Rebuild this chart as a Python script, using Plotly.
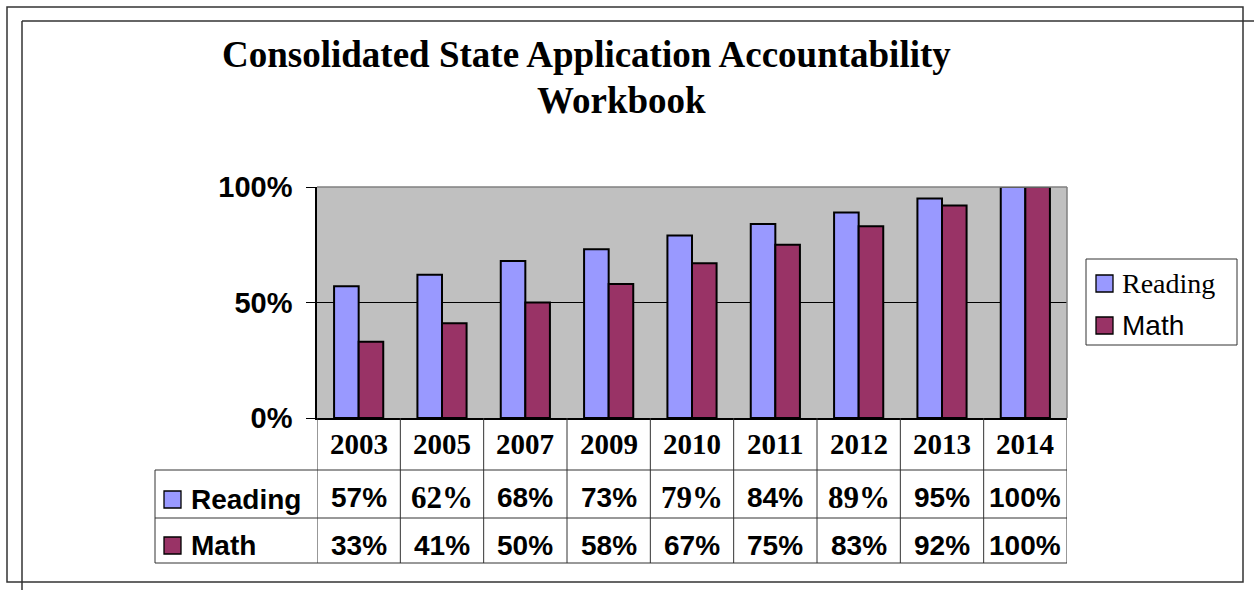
import plotly.graph_objects as go

# ---- data ----
years = ["2003", "2005", "2007", "2009", "2010", "2011", "2012", "2013", "2014"]
reading = [57, 62, 68, 73, 79, 84, 89, 95, 100]
math = [33, 41, 50, 58, 67, 75, 83, 92, 100]
series_names = ["Reading", "Math"]
ytick_vals = [0, 0.5, 1.0]
ytick_text = ["0%", "50%", "100%"]
title_line1 = "Consolidated State Application Accountability"
title_line2 = "Workbook"

# ---- styles ----
W, H = 1254, 590
SERIF = "Times New Roman, Liberation Serif, serif"
SANS = "Arial, Liberation Sans, sans-serif"
C_READ = "#9999FF"
C_MATH = "#993366"
serif_reading_cells = {"2005", "2010", "2012"}


def px(x):
    return x / W


def py(y):
    return 1 - y / H


x0p, x1p = 317, 1067
y_top, y_bot = 187, 418

fig = go.Figure()
fig.add_trace(go.Bar(x=years, y=[v / 100 for v in reading], name=series_names[0],
                     marker=dict(color=C_READ, line=dict(color="black", width=2)),
                     showlegend=False))
fig.add_trace(go.Bar(x=years, y=[v / 100 for v in math], name=series_names[1],
                     marker=dict(color=C_MATH, line=dict(color="black", width=2)),
                     showlegend=False))

shapes = []
annotations = []

# page frame lines
shapes.append(dict(type="rect", xref="paper", yref="paper", x0=px(7), x1=px(1243), y0=py(7), y1=py(582),
                   line=dict(color="#333333", width=1.5)))
shapes.append(dict(type="line", xref="paper", yref="paper", x0=px(22), x1=px(1254), y0=py(21), y1=py(21),
                   line=dict(color="#333333", width=1.5)))
shapes.append(dict(type="line", xref="paper", yref="paper", x0=px(22), x1=px(22), y0=py(21), y1=py(590),
                   line=dict(color="#333333", width=1.5)))

# plot area border top/right (gray)
shapes.append(dict(type="line", xref="x domain", yref="y domain", x0=0, x1=1, y0=1, y1=1,
                   line=dict(color="#808080", width=1.5)))
shapes.append(dict(type="line", xref="x domain", yref="y domain", x0=1, x1=1, y0=0, y1=1,
                   line=dict(color="#808080", width=1.5)))

# data table lines
tcol = "#333333"
n = len(years)
for k in range(n + 1):
    shapes.append(dict(type="line", xref="x", yref="paper", x0=k - 0.5, x1=k - 0.5,
                       y0=py(418), y1=py(563), line=dict(color=tcol, width=1)))
for yy in (470, 518, 563):
    shapes.append(dict(type="line", xref="paper", yref="paper", x0=px(155), x1=px(1067),
                       y0=py(yy), y1=py(yy), line=dict(color=tcol, width=1)))
shapes.append(dict(type="line", xref="paper", yref="paper", x0=px(155), x1=px(155),
                   y0=py(470), y1=py(563), line=dict(color=tcol, width=1)))

# year row
for k, yr in enumerate(years):
    annotations.append(dict(x=k, xref="x", y=py(444), yref="paper", text=f"<b>{yr}</b>",
                            showarrow=False, xanchor="center", yanchor="middle",
                            font=dict(family=SERIF, size=29, color="black")))
# values rows
for k, (yr, v) in enumerate(zip(years, reading)):
    serif = yr in serif_reading_cells
    annotations.append(dict(x=k, xref="x", y=py(497), yref="paper", text=f"<b>{v}%</b>",
                            showarrow=False, xanchor="center", yanchor="middle",
                            font=dict(family=SERIF if serif else SANS, size=31 if serif else 28,
                                      color="black")))
for k, (yr, v) in enumerate(zip(years, math)):
    annotations.append(dict(x=k, xref="x", y=py(545), yref="paper", text=f"<b>{v}%</b>",
                            showarrow=False, xanchor="center", yanchor="middle",
                            font=dict(family=SANS, size=28, color="black")))

# table row keys + labels
for name, col, yc in ((series_names[0], C_READ, 499), (series_names[1], C_MATH, 545)):
    shapes.append(dict(type="rect", xref="paper", yref="paper", x0=px(164), x1=px(181),
                       y0=py(yc - 8), y1=py(yc + 9), fillcolor=col, line=dict(color="black", width=1.3)))
    annotations.append(dict(x=px(189), xref="paper", y=py(yc), yref="paper", text=f"<b>{name}</b>",
                            showarrow=False, xanchor="left", yanchor="middle",
                            font=dict(family=SANS, size=28, color="black")))

# legend box
shapes.append(dict(type="rect", xref="paper", yref="paper", x0=px(1086), x1=px(1237), y0=py(259), y1=py(345),
                   line=dict(color="#333333", width=1), fillcolor="white"))
for name, col, yc, fam in ((series_names[0], C_READ, 283, SERIF), (series_names[1], C_MATH, 325, SANS)):
    shapes.append(dict(type="rect", xref="paper", yref="paper", x0=px(1096), x1=px(1113),
                       y0=py(yc - 8), y1=py(yc + 9), fillcolor=col, line=dict(color="black", width=1.3)))
    annotations.append(dict(x=px(1120), xref="paper", y=py(yc), yref="paper", text=name,
                            showarrow=False, xanchor="left", yanchor="middle",
                            font=dict(family=fam, size=28, color="black")))

# title
annotations.append(dict(x=px(586), xref="paper", y=py(54), yref="paper", text=f"<b>{title_line1}</b>",
                        showarrow=False, xanchor="center", yanchor="middle",
                        font=dict(family=SERIF, size=37, color="black")))
annotations.append(dict(x=px(621), xref="paper", y=py(100), yref="paper", text=f"<b>{title_line2}</b>",
                        showarrow=False, xanchor="center", yanchor="middle",
                        font=dict(family=SERIF, size=37, color="black")))

fig.update_layout(
    width=W, height=H, autosize=False,
    margin=dict(l=0, r=0, t=0, b=0, autoexpand=False),
    paper_bgcolor="white", plot_bgcolor="#C0C0C0",
    barmode="group", bargap=0.41, bargroupgap=0,
    showlegend=False,
    xaxis=dict(domain=[px(x0p), px(x1p)], range=[-0.5, n - 0.5], type="category",
               showticklabels=False, ticks="", showgrid=False, zeroline=False,
               showline=True, linecolor="black", linewidth=2),
    yaxis=dict(domain=[py(y_bot), py(y_top)], range=[0, 1.0], tickvals=ytick_vals,
               ticktext=[f"<b>{t}</b>" for t in ytick_text],
               tickfont=dict(family=SANS, size=29, color="black"),
               ticks="outside", ticklen=9, tickcolor="black", tickwidth=1,
               showgrid=True, gridcolor="black", gridwidth=1, zeroline=False,
               showline=True, linecolor="black", linewidth=1.5, ticklabelstandoff=8),
    shapes=shapes, annotations=annotations,
)

fig.write_html("out.html")
